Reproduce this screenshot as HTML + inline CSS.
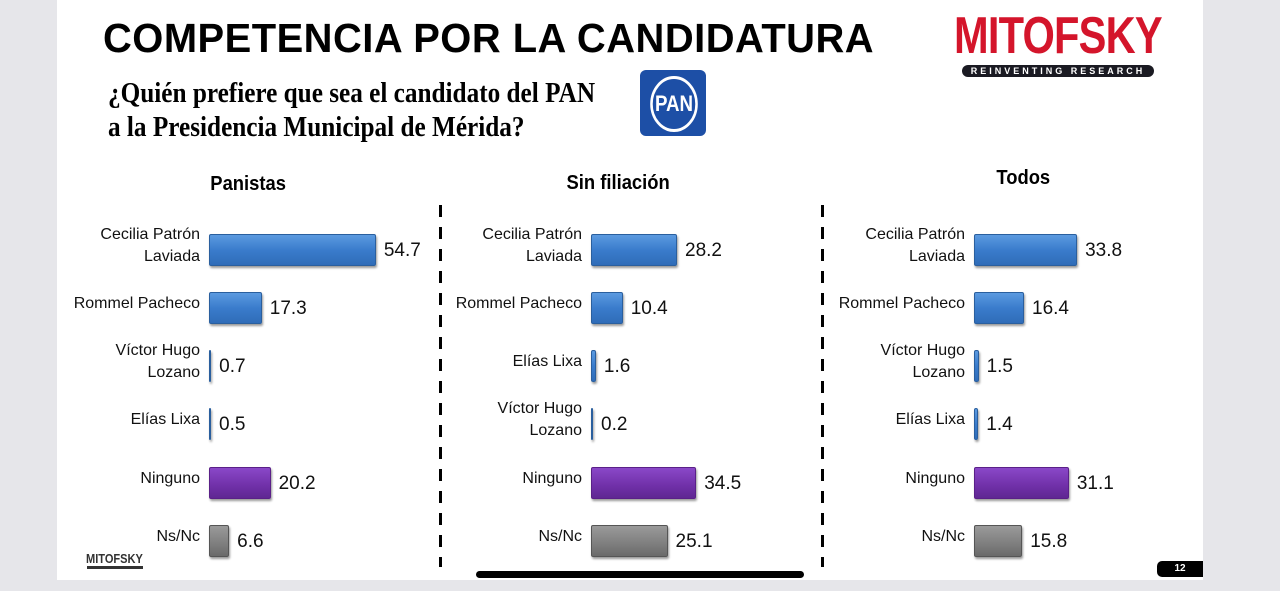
<!DOCTYPE html>
<html><head><meta charset="utf-8"><style>
body{margin:0;width:1280px;height:591px;background:#e6e6ea;position:relative;overflow:hidden;font-family:"Liberation Sans",sans-serif}
.slide{position:absolute;left:57px;top:0;width:1146px;height:580px;background:#fff}
.a{position:absolute}
.lbl{position:absolute;font-size:16px;text-align:right;line-height:22px;color:#111;width:180px}
.val{position:absolute;font-size:19px;color:#111}
.bar{position:absolute;height:32px;border-radius:2px;box-sizing:border-box}
.b{background:linear-gradient(#5b9ae0,#3a7ccc 50%,#2f6cb8);border:1px solid #2a5f9e;box-shadow:1px 2px 2px #999}
.p{background:linear-gradient(#8a48c8,#7030a8 60%,#5f2792);border:1px solid #5a2088;box-shadow:1px 2px 2px #999}
.g{background:linear-gradient(#9a9a9a,#7e7e7e 60%,#6a6a6a);border:1px solid #555;box-shadow:1px 2px 2px #999}
.dash{position:absolute;width:3px;top:205px;height:362px;background:repeating-linear-gradient(#000 0 12px,transparent 12px 22px)}
.h{position:absolute;font-weight:bold;font-size:20px;transform:scaleX(0.92)}
</style></head><body>
<div class="slide"></div>
<div class="a" style="left:103px;top:15px;font-size:41px;font-weight:900;transform:scaleX(0.973);transform-origin:left;letter-spacing:0.5px">COMPETENCIA POR LA CANDIDATURA</div>
<div class="a" style="left:108px;top:76px;font-size:29px;font-weight:bold;line-height:34px;font-family:'Liberation Serif',serif;transform:scaleX(0.87);transform-origin:left;width:700px">¿Quién prefiere que sea el candidato del PAN<br>a la Presidencia Municipal de Mérida?</div>
<div class="a" style="left:640px;top:70px;width:66px;height:66px;background:#1d4fa6;border-radius:6px"></div>
<div class="a" style="left:646px;top:76px;width:50px;height:50px;border:3px solid #fff;border-radius:50%;color:#fff;font-weight:bold;font-size:22px;line-height:50px;text-align:center;transform:scaleX(0.85)">PAN</div>
<div class="a" style="left:954px;top:8px;color:#d4152b;font-size:52px;font-weight:900;transform:scaleX(0.8);transform-origin:left;letter-spacing:-1px;line-height:56px">MITOFSKY</div>
<div class="a" style="left:962px;top:65px;width:192px;height:12px;background:#1a1a22;border-radius:6px;color:#fff;font-size:9px;font-weight:bold;letter-spacing:3px;text-align:center;line-height:12px">REINVENTING RESEARCH</div>
<div class="a" style="left:86px;top:551px;font-size:13px;font-weight:900;color:#333;transform:scaleX(0.85);transform-origin:left">MITOFSKY</div>
<div class="a" style="left:87px;top:566px;width:56px;height:3px;background:#333"></div>
<div class="h" style="left:207px;top:173px">Panistas</div>
<div class="h" style="left:562px;top:172px">Sin filiación</div>
<div class="h" style="left:994px;top:167px">Todos</div>
<div class="dash" style="left:439px"></div>
<div class="dash" style="left:821px"></div>
<div class="a" style="left:476px;top:571px;width:328px;height:7px;background:#000;border-radius:4px"></div>
<div class="a" style="left:1157px;top:561px;width:46px;height:16px;background:#000;border-radius:5px 0 0 5px;color:#fff;font-size:10px;font-weight:bold;text-align:center;line-height:16px">12</div>
<div id="c"></div>
<script>
var panels=[[200,209,[["Cecilia Patrón<br>Laviada",54.7,"b"],["Rommel Pacheco",17.3,"b"],["Víctor Hugo<br>Lozano",0.7,"b"],["Elías Lixa",0.5,"b"],["Ninguno",20.2,"p"],["Ns/Nc",6.6,"g"]]],
[582,591,[["Cecilia Patrón<br>Laviada",28.2,"b"],["Rommel Pacheco",10.4,"b"],["Elías Lixa",1.6,"b"],["Víctor Hugo<br>Lozano",0.2,"b"],["Ninguno",34.5,"p"],["Ns/Nc",25.1,"g"]]],
[965,974,[["Cecilia Patrón<br>Laviada",33.8,"b"],["Rommel Pacheco",16.4,"b"],["Víctor Hugo<br>Lozano",1.5,"b"],["Elías Lixa",1.4,"b"],["Ninguno",31.1,"p"],["Ns/Nc",15.8,"g"]]]];
var ys=[250,308,366,424,483,541],h="";
panels.forEach(function(p){p[2].forEach(function(r,i){var y=ys[i];var two=r[0].indexOf("<br>")>0;
h+='<div class="lbl" style="left:'+(p[0]-180)+'px;top:'+(y-(two?26:15))+'px">'+r[0]+'</div>';
var w=Math.max(2,r[1]*3.05);
h+='<div class="bar '+r[2]+'" style="left:'+p[1]+'px;top:'+(y-16)+'px;width:'+w+'px"></div>';
h+='<div class="val" style="left:'+(p[1]+w+8)+'px;top:'+(y-10)+'px">'+r[1]+'</div>';});});
document.getElementById("c").innerHTML=h;
</script>
</body></html>
